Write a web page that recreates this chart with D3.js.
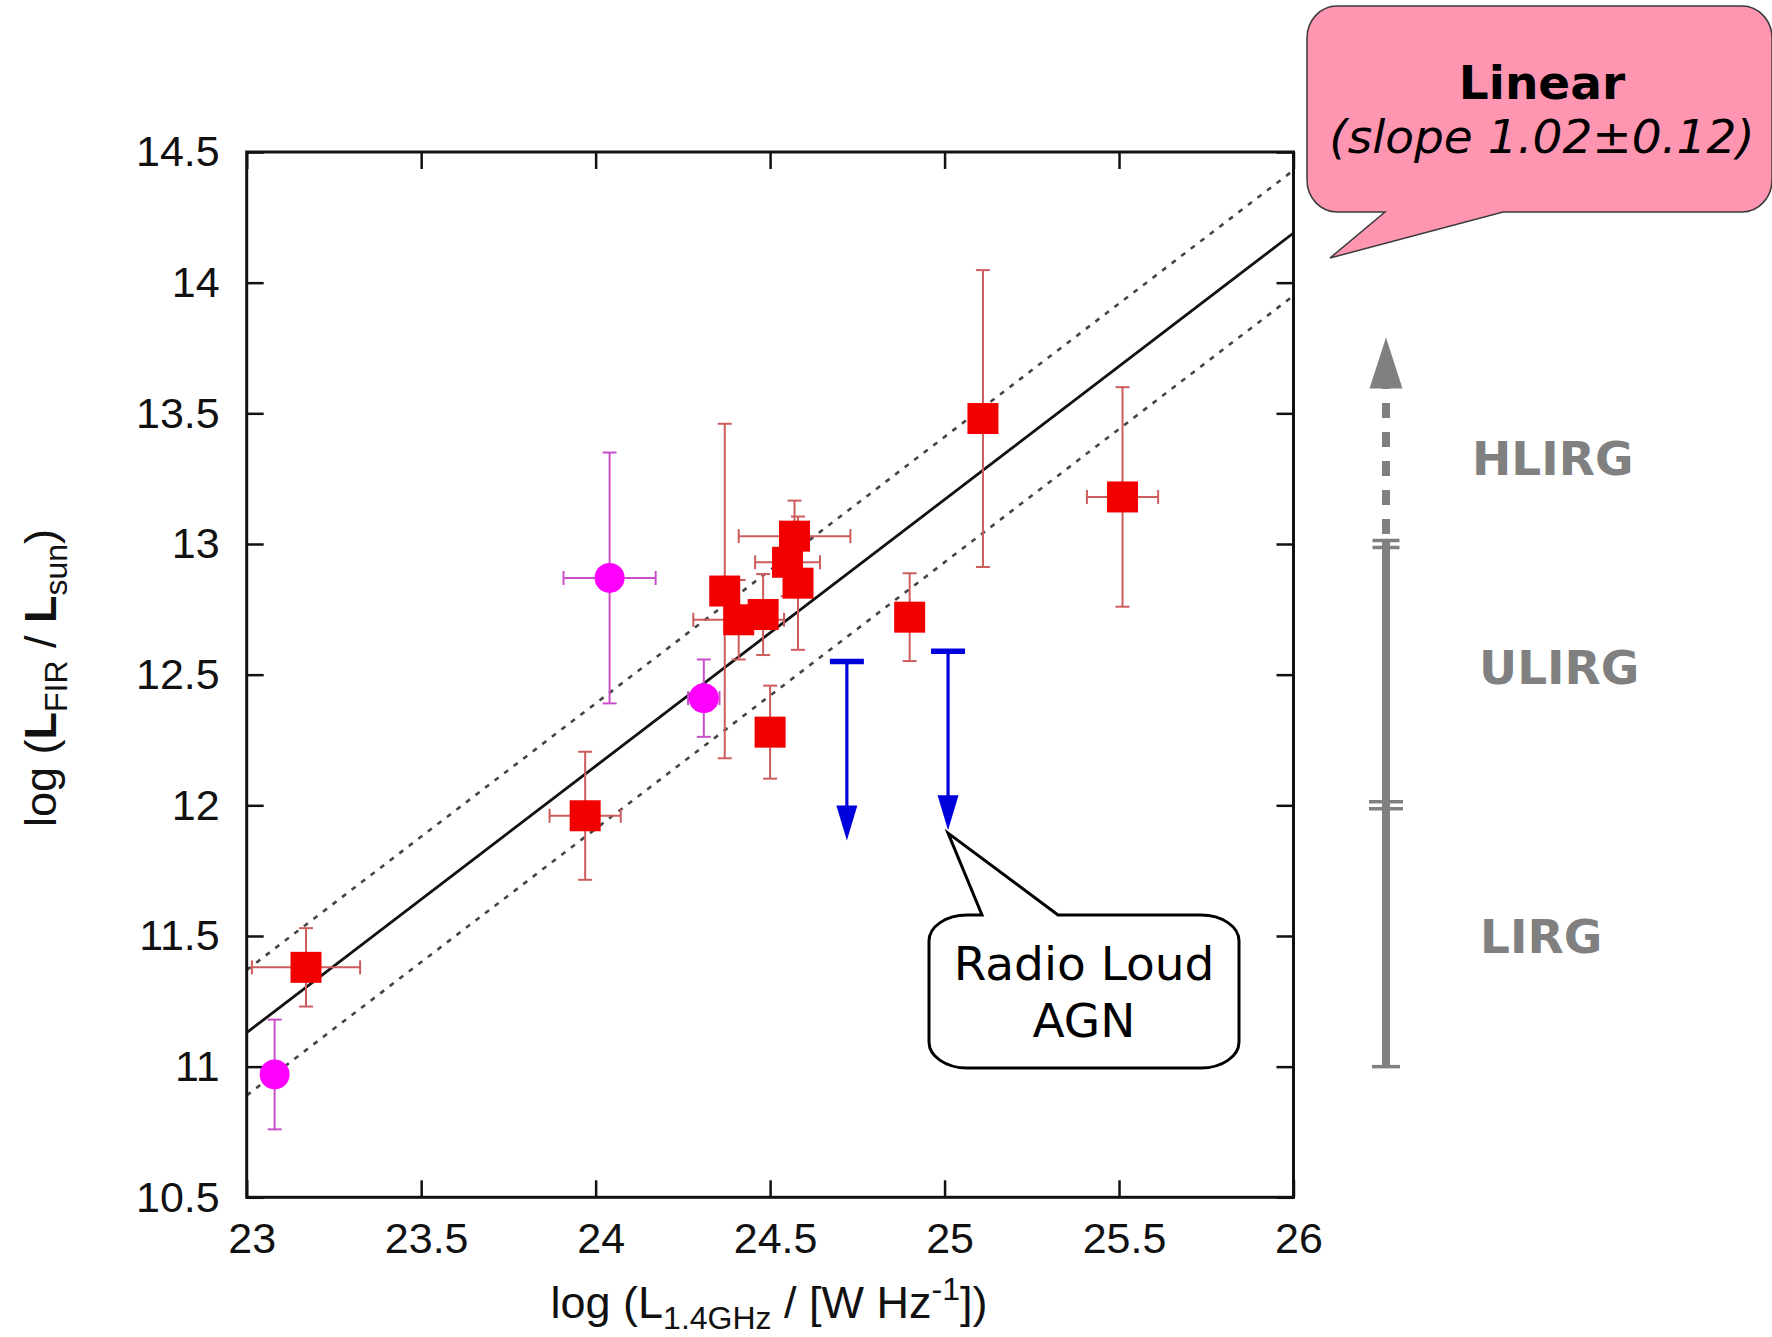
<!DOCTYPE html>
<html>
<head>
<meta charset="utf-8">
<script src="https://cdn.jsdelivr.net/npm/d3@7"></script>
<style>
  html, body { margin: 0; padding: 0; background: #fff; }
  svg { display: block; }
</style>
</head>
<body>
<svg id="chart" width="1772" height="1337"></svg>
<script>
// ---- axis ticks ----
const xTicks = [23, 23.5, 24, 24.5, 25, 25.5, 26];
const yTicks = [10.5, 11, 11.5, 12, 12.5, 13, 13.5, 14, 14.5];

// ---- sources: log L(1.4GHz), log L(FIR), symmetric errors ----
const squares = [
  { x: 23.17, y: 11.38, ex: 0.155, ey: 0.150 },
  { x: 23.97, y: 11.96, ex: 0.102, ey: 0.245 },
  { x: 24.37, y: 12.82, ex: 0,     ey: 0.640 },
  { x: 24.41, y: 12.71, ex: 0.130, ey: 0.152 },
  { x: 24.48, y: 12.73, ex: 0,     ey: 0.155 },
  { x: 24.57, y: 13.03, ex: 0.160, ey: 0.136 },
  { x: 24.55, y: 12.93, ex: 0.093, ey: 0.130 },
  { x: 24.58, y: 12.85, ex: 0,     ey: 0.255 },
  { x: 24.50, y: 12.28, ex: 0,     ey: 0.178 },
  { x: 24.90, y: 12.72, ex: 0,     ey: 0.168 },
  { x: 25.11, y: 13.48, ex: 0,     ey: 0.568 },
  { x: 25.51, y: 13.18, ex: 0.102, ey: 0.420 }
];
const circles = [
  { x: 23.08, y: 10.97, ex: 0,     ey: 0.210 },
  { x: 24.04, y: 12.87, ex: 0.132, ey: 0.480 },
  { x: 24.31, y: 12.41, ex: 0.045, ey: 0.148 }
];
// radio loud AGN, FIR upper limits
const upperLimits = [
  { x: 24.72, y: 12.55 },
  { x: 25.01, y: 12.59 }
];

// ---- linear fit ----
const fitSlope = 1.02;
const fitZero = -12.33;
const fitScatter = 0.24;

// ---- luminosity classes ----
const classBreaks = [11, 12, 13];
const classLabels = [
  { name: "LIRG",  at: 11.5,  dx: 1480 },
  { name: "ULIRG", at: 12.53, dx: 1479 },
  { name: "HLIRG", at: 13.33, dx: 1472 }
];

const svg = d3.select("#chart");
svg.append("rect").attr("width", 1772).attr("height", 1337).attr("fill", "#fff");

const x = d3.scaleLinear().domain([23, 26]).range([246.7, 1293.5]);
const y = d3.scaleLinear().domain([10.5, 14.5]).range([1197.3, 152]);

const tickFont = "'Liberation Sans', Arial, Helvetica, sans-serif";
const noteFont = "'DejaVu Sans', 'Bitstream Vera Sans', sans-serif";
const fmt = d3.format("");

// ---- axes ----
function styleAxis(g) {
  g.select(".domain").remove();
  g.selectAll(".tick line").attr("stroke", "#111").attr("stroke-width", 2.5);
  g.selectAll(".tick text")
    .attr("fill", "#111")
    .style("font-family", tickFont)
    .style("font-size", "43px");
}

svg.append("g")
  .attr("transform", `translate(0,${y(10.5)})`)
  .call(d3.axisBottom(x).tickValues(xTicks).tickSize(-17).tickPadding(25.5).tickFormat(fmt))
  .call(styleAxis)
  .call(g => g.selectAll(".tick text").attr("dx", 5));

svg.append("g")
  .attr("transform", `translate(${x(23)},0)`)
  .call(d3.axisLeft(y).tickValues(yTicks).tickSize(-17).tickPadding(27).tickFormat(fmt))
  .call(styleAxis);

svg.append("g")
  .attr("transform", `translate(0,${y(14.5)})`)
  .call(d3.axisTop(x).tickValues(xTicks).tickSize(-17).tickFormat(""))
  .call(styleAxis);

svg.append("g")
  .attr("transform", `translate(${x(26)},0)`)
  .call(d3.axisRight(y).tickValues(yTicks).tickSize(-17).tickFormat(""))
  .call(styleAxis);

// ---- axis titles ----
const xTitle = svg.append("text")
  .attr("x", 769).attr("y", 1318)
  .attr("text-anchor", "middle")
  .attr("fill", "#111")
  .style("font-family", tickFont)
  .style("font-size", "45px");
xTitle.append("tspan").text("log (L");
xTitle.append("tspan").attr("dy", 11).style("font-size", "32px").text("1.4GHz");
xTitle.append("tspan").attr("dy", -11).text(" / [W Hz");
xTitle.append("tspan").attr("dy", -18).style("font-size", "32px").text("-1");
xTitle.append("tspan").attr("dy", 18).text("])");

const yTitle = svg.append("text")
  .attr("transform", "translate(56,678) rotate(-90)")
  .attr("text-anchor", "middle")
  .attr("fill", "#111")
  .style("font-family", tickFont)
  .style("font-size", "45px");
yTitle.append("tspan").text("log (");
yTitle.append("tspan").attr("font-weight", "bold").text("L");
yTitle.append("tspan").attr("dy", 11).style("font-size", "32px").text("FIR");
yTitle.append("tspan").attr("dy", -11).text(" / ");
yTitle.append("tspan").attr("font-weight", "bold").text("L");
yTitle.append("tspan").attr("dy", 11).style("font-size", "32px").text("sun");
yTitle.append("tspan").attr("dy", -11).text(")");

// ---- fit line and scatter band ----
const xs = x.domain();
const fitPath = off => d3.line()
  .x(d => x(d))
  .y(d => y(fitSlope * d + fitZero + off))(xs);

const plot = svg.append("g");
[fitScatter, -fitScatter].forEach(off => {
  plot.append("path")
    .attr("d", fitPath(off))
    .attr("fill", "none")
    .attr("stroke", "#444")
    .attr("stroke-width", 2.6)
    .attr("stroke-dasharray", "5 7");
});
plot.append("path")
  .attr("d", fitPath(0))
  .attr("fill", "none")
  .attr("stroke", "#111")
  .attr("stroke-width", 2.8);

// ---- error bars ----
function errorBars(data, color) {
  const cap = 7;
  const g = plot.append("g")
    .attr("stroke", color)
    .attr("stroke-width", 2)
    .attr("fill", "none");
  data.forEach(d => {
    const cx = x(d.x), cy = y(d.y);
    if (d.ey > 0) {
      const y0 = y(d.y - d.ey), y1 = y(d.y + d.ey);
      g.append("line").attr("x1", cx).attr("x2", cx).attr("y1", y0).attr("y2", y1);
      g.append("line").attr("x1", cx - cap).attr("x2", cx + cap).attr("y1", y0).attr("y2", y0);
      g.append("line").attr("x1", cx - cap).attr("x2", cx + cap).attr("y1", y1).attr("y2", y1);
    }
    if (d.ex > 0) {
      const x0 = x(d.x - d.ex), x1 = x(d.x + d.ex);
      g.append("line").attr("x1", x0).attr("x2", x1).attr("y1", cy).attr("y2", cy);
      g.append("line").attr("x1", x0).attr("x2", x0).attr("y1", cy - cap).attr("y2", cy + cap);
      g.append("line").attr("x1", x1).attr("x2", x1).attr("y1", cy - cap).attr("y2", cy + cap);
    }
  });
}
errorBars(squares, "#cd5c5c");
errorBars(circles, "#c94fc9");

// ---- markers ----
const side = 31;
plot.append("g").selectAll("rect")
  .data(squares)
  .join("rect")
  .attr("x", d => x(d.x) - side / 2)
  .attr("y", d => y(d.y) - side / 2)
  .attr("width", side)
  .attr("height", side)
  .attr("fill", "#f20000");

plot.append("g").selectAll("circle")
  .data(circles)
  .join("circle")
  .attr("cx", d => x(d.x))
  .attr("cy", d => y(d.y))
  .attr("r", 15)
  .attr("fill", "#ff00ff");

// ---- upper limits ----
const limitLen = 179, headLen = 35, headHalf = 10.5;
const blue = "#0000dd";
const lim = plot.append("g");
upperLimits.forEach(d => {
  const cx = x(d.x), top = y(d.y), tip = top + limitLen;
  lim.append("line").attr("x1", cx - 17).attr("x2", cx + 17)
    .attr("y1", top).attr("y2", top)
    .attr("stroke", blue).attr("stroke-width", 5.5);
  lim.append("line").attr("x1", cx).attr("x2", cx)
    .attr("y1", top).attr("y2", tip - headLen + 2)
    .attr("stroke", blue).attr("stroke-width", 3.2);
  lim.append("path")
    .attr("d", `M${cx - headHalf},${tip - headLen} L${cx + headHalf},${tip - headLen} L${cx},${tip} Z`)
    .attr("fill", blue);
});

// ---- frame ----
svg.append("rect")
  .attr("x", x(23)).attr("y", y(14.5))
  .attr("width", x(26) - x(23)).attr("height", y(10.5) - y(14.5))
  .attr("fill", "none")
  .attr("stroke", "#111")
  .attr("stroke-width", 3);

// ---- callout shapes ----
function callout(x0, y0, x1, y1, rx, ry, tail) {
  const k = 0.5523;
  const p = d3.path();
  p.moveTo(x0 + rx, y0);
  if (tail.side === "top") {
    p.lineTo(tail.a, y0);
    p.lineTo(tail.tip[0], tail.tip[1]);
    p.lineTo(tail.b, y0);
  }
  p.lineTo(x1 - rx, y0);
  p.bezierCurveTo(x1 - rx + rx * k, y0, x1, y0 + ry - ry * k, x1, y0 + ry);
  p.lineTo(x1, y1 - ry);
  p.bezierCurveTo(x1, y1 - ry + ry * k, x1 - rx + rx * k, y1, x1 - rx, y1);
  if (tail.side === "bottom") {
    p.lineTo(tail.b, y1);
    p.lineTo(tail.tip[0], tail.tip[1]);
    p.lineTo(tail.a, y1);
  }
  p.lineTo(x0 + rx, y1);
  p.bezierCurveTo(x0 + rx - rx * k, y1, x0, y1 - ry + ry * k, x0, y1 - ry);
  p.lineTo(x0, y0 + ry);
  p.bezierCurveTo(x0, y0 + ry - ry * k, x0 + rx - rx * k, y0, x0 + rx, y0);
  p.closePath();
  return p.toString();
}

// fit summary
svg.append("path")
  .attr("d", callout(1307, 6, 1772, 212, 30, 32,
    { side: "bottom", a: 1385, b: 1503, tip: [1330, 258] }))
  .attr("fill", "#ff96b1")
  .attr("stroke", "#3a3a3a")
  .attr("stroke-width", 1.5);
svg.append("text")
  .attr("x", 1542).attr("y", 99)
  .attr("text-anchor", "middle")
  .style("font-family", noteFont).style("font-size", "47px").style("font-weight", "bold")
  .attr("fill", "#000")
  .text("Linear");
svg.append("text")
  .attr("x", 1542).attr("y", 153)
  .attr("text-anchor", "middle")
  .style("font-family", noteFont).style("font-size", "47px").style("font-style", "italic")
  .attr("fill", "#000")
  .text("(slope 1.02\u00b10.12)");

// radio loud note, pointing at the second limit
const agn = upperLimits[1];
const agnTip = [x(agn.x), y(agn.y) + limitLen + 3];
svg.append("path")
  .attr("d", callout(929, 915, 1239, 1068, 38, 26,
    { side: "top", a: 982, b: 1058, tip: agnTip }))
  .attr("fill", "#fff")
  .attr("stroke", "#000")
  .attr("stroke-width", 3);
svg.append("text")
  .attr("x", 1084).attr("y", 980)
  .attr("text-anchor", "middle")
  .style("font-family", noteFont).style("font-size", "47px")
  .attr("fill", "#000")
  .text("Radio Loud");
svg.append("text")
  .attr("x", 1084).attr("y", 1037)
  .attr("text-anchor", "middle")
  .style("font-family", noteFont).style("font-size", "47px")
  .attr("fill", "#000")
  .text("AGN");

// ---- luminosity class scale ----
const gray = "#808080";
const gx = 1386;
const scaleG = svg.append("g").attr("stroke", gray);
// solid bar from LIRG floor to HLIRG floor
scaleG.append("line")
  .attr("x1", gx).attr("x2", gx)
  .attr("y1", y(classBreaks[0])).attr("y2", y(classBreaks[2]) - 4)
  .attr("stroke-width", 8);
// bottom cap
scaleG.append("line")
  .attr("x1", gx - 14).attr("x2", gx + 14)
  .attr("y1", y(classBreaks[0])).attr("y2", y(classBreaks[0]))
  .attr("stroke-width", 3.5);
// double caps at each class boundary
[[classBreaks[1], 17], [classBreaks[2], 13.5]].forEach(([v, half]) => {
  [-3.5, 3.5].forEach(o => {
    scaleG.append("line")
      .attr("x1", gx - half).attr("x2", gx + half)
      .attr("y1", y(v) + o).attr("y2", y(v) + o)
      .attr("stroke-width", 3.5);
  });
});
// open-ended HLIRG range
const arrowTip = y(13.79), arrowBase = y(13.595);
scaleG.append("line")
  .attr("x1", gx).attr("x2", gx)
  .attr("y1", y(classBreaks[2]) - 10).attr("y2", arrowBase - 2)
  .attr("stroke-width", 8)
  .attr("stroke-dasharray", "15 14");
svg.append("path")
  .attr("d", `M${gx - 16.5},${arrowBase} L${gx + 16.5},${arrowBase} L${gx},${arrowTip} Z`)
  .attr("fill", gray);

svg.append("g").selectAll("text")
  .data(classLabels)
  .join("text")
  .attr("x", d => d.dx)
  .attr("y", d => y(d.at))
  .attr("dy", "0.36em")
  .attr("fill", gray)
  .style("font-family", noteFont)
  .style("font-size", "47px")
  .style("font-weight", "bold")
  .text(d => d.name);
</script>
</body>
</html>
